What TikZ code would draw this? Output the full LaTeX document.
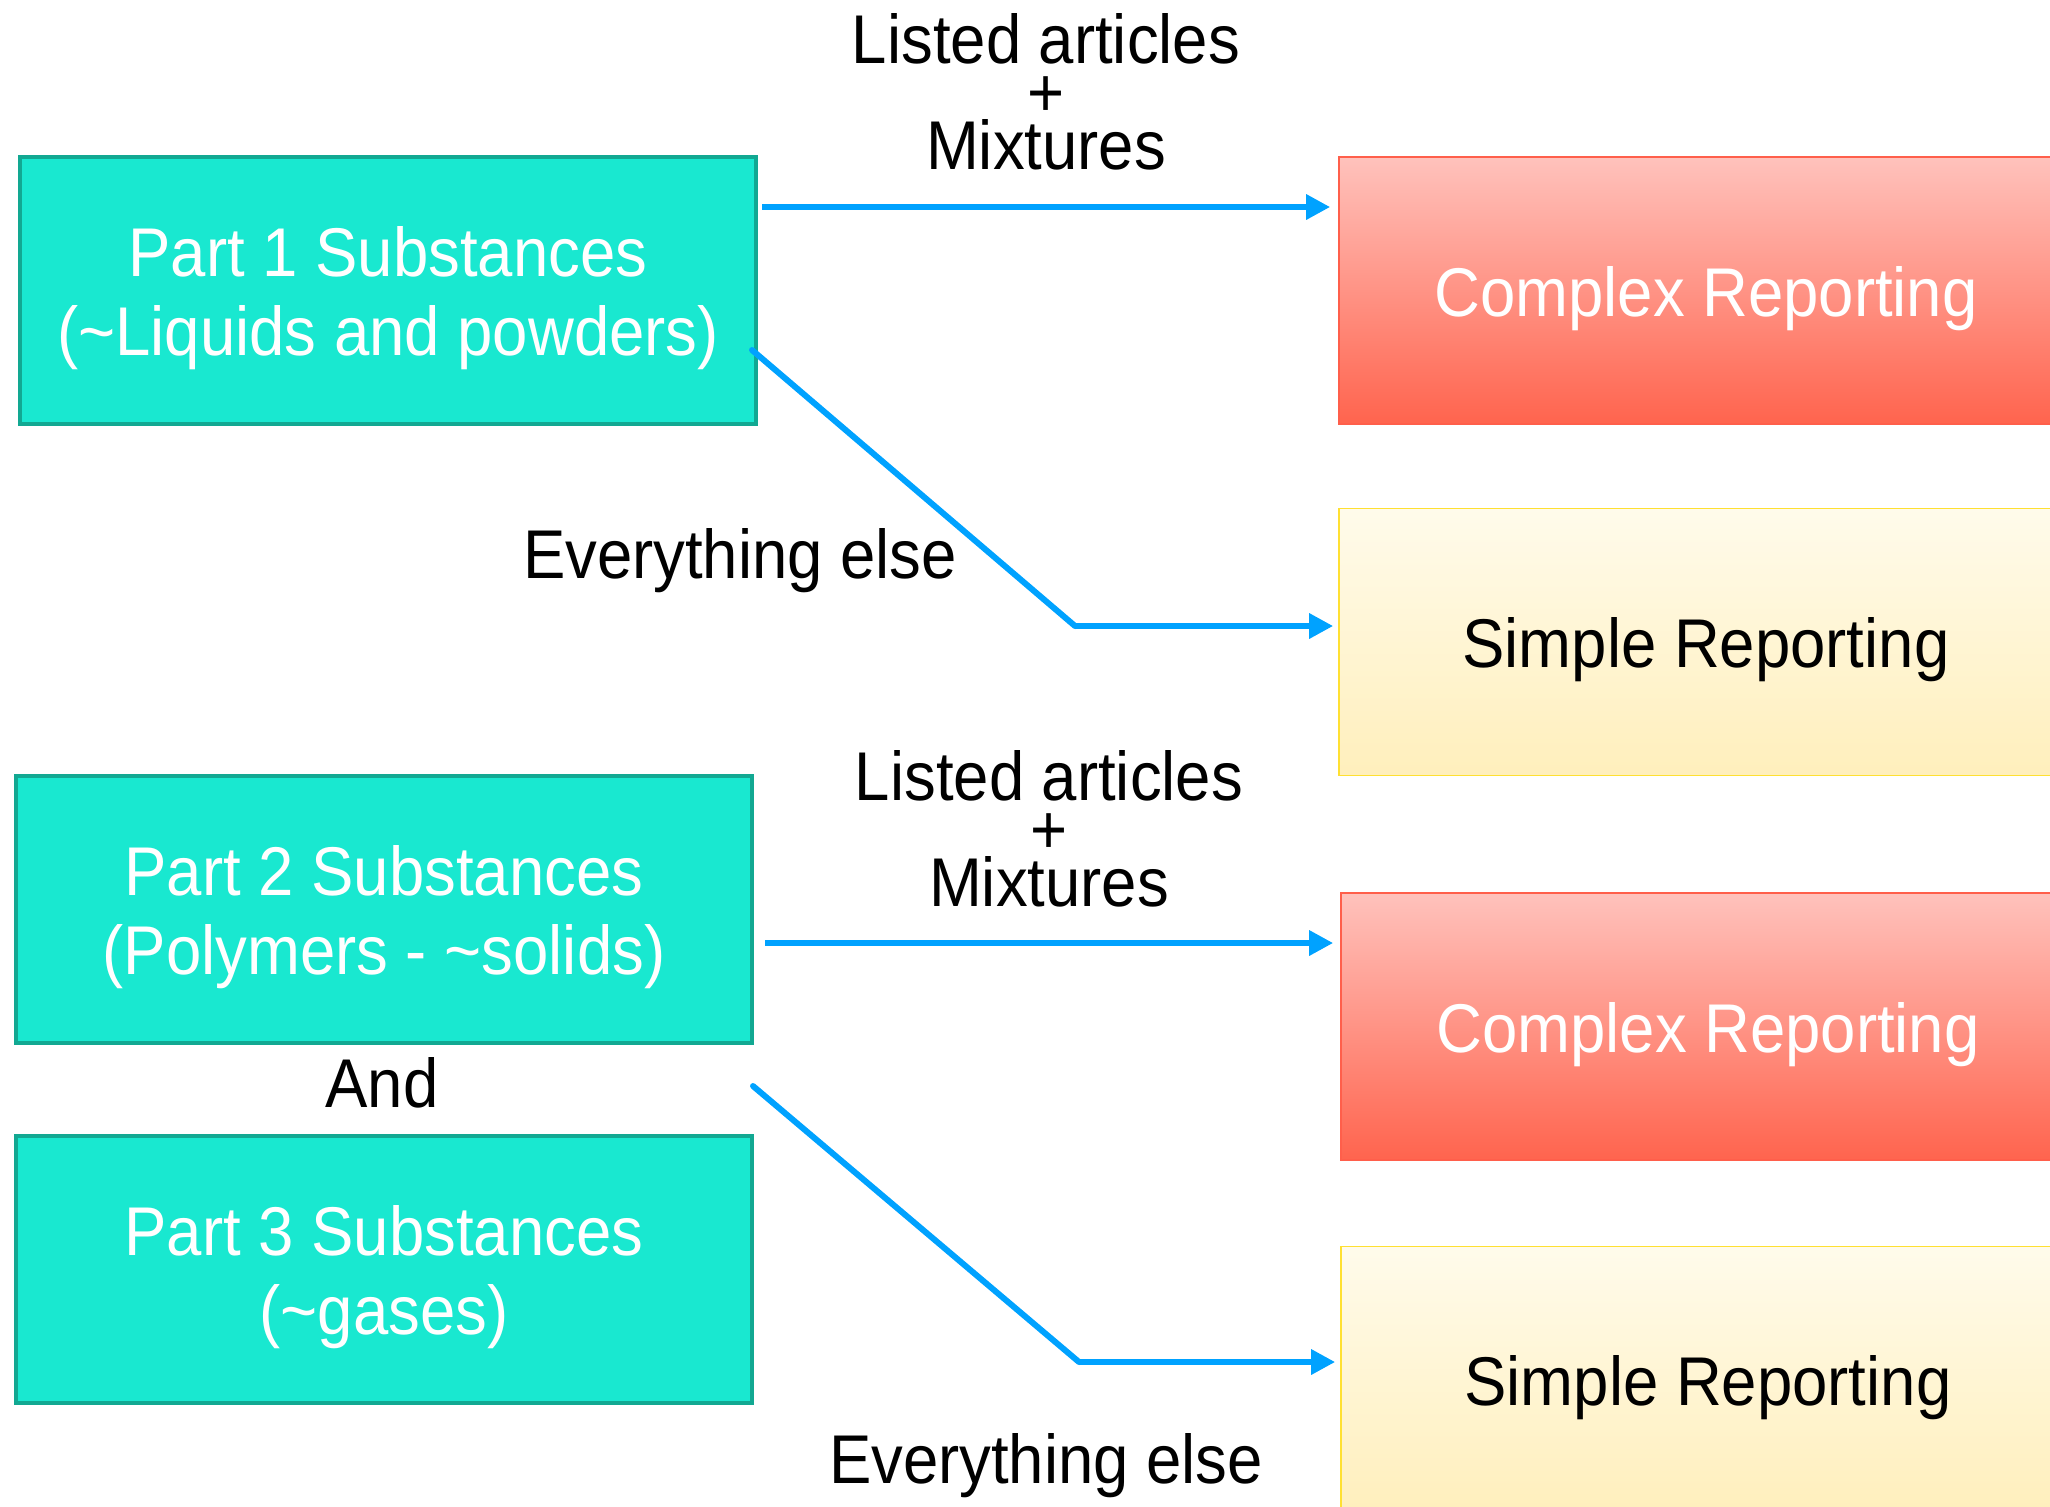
\documentclass[tikz,border=0pt]{standalone}
\usepackage{fontspec}
\setmainfont{Liberation Sans}[FakeStretch=0.92]
\usetikzlibrary{arrows.meta,calc}
\definecolor{tealfill}{RGB}{25,232,208}
\definecolor{tealline}{RGB}{18,168,146}
\definecolor{cxtop}{RGB}{255,194,188}
\definecolor{cxbot}{RGB}{255,100,78}
\definecolor{cxline}{RGB}{255,95,75}
\definecolor{smtop}{RGB}{255,251,235}
\definecolor{smbot}{RGB}{255,239,188}
\definecolor{smline}{RGB}{255,224,50}
\definecolor{arrowblue}{RGB}{0,162,255}
\tikzset{
  bigfont/.style={font=\fontsize{34.5pt}{39.5pt}\selectfont},
  labelfont/.style={font=\fontsize{34.5pt}{26.5pt}\selectfont},
  partbox/.style={draw=tealline, line width=2pt, fill=tealfill,
    minimum width=368pt, minimum height=133.5pt, inner sep=0pt},
  complexbox/.style={draw=cxline, line width=0.8pt, top color=cxtop, bottom color=cxbot,
    minimum width=367pt, minimum height=133.5pt, inner sep=0pt},
  simplebox/.style={draw=smline, line width=0.8pt, top color=smtop, bottom color=smbot,
    minimum width=367pt, minimum height=133.5pt, inner sep=0pt},
  whitetext/.style={text=white, align=center, bigfont, inner sep=0pt},
  blacktext/.style={text=black, align=center, bigfont, inner sep=0pt},
  lbl/.style={text=black, align=center, labelfont, inner sep=0pt},
  conn/.style={draw=arrowblue, line width=3pt, -{Triangle[length=12pt,width=12pt]}},
  plainconn/.style={draw=arrowblue, line width=3pt, line cap=round},
}
\begin{document}
\begin{tikzpicture}[x=0.5pt,y=-0.5pt]
\useasboundingbox (0,0) rectangle (2050,1506);
% boxes
\node[partbox] (p1) at (388,290.5) {};
\node[partbox] (p2) at (384,909) {};
\node[partbox] (p3) at (384,1269) {};
\node[complexbox] (c1) at (1706,290.5) {};
\node[simplebox] (s1) at (1706,642) {};
\node[complexbox] (c2) at (1708,1026.5) {};
\node[simplebox] (s2) at (1708,1380) {};
% box texts
\node[whitetext] (p1t) at ($(p1)+(0,8)$) {Part 1 Substances\\(\textasciitilde Liquids and powders)};
\node[whitetext] (p2t) at ($(p2)+(0,8)$) {Part 2 Substances\\(Polymers - \textasciitilde solids)};
\node[whitetext] (p3t) at ($(p3)+(0,8)$) {Part 3 Substances\\(\textasciitilde gases)};
\node[whitetext] (c1t) at ($(c1)+(0,8)$) {Complex Reporting};
\node[blacktext] (s1t) at ($(s1)+(0,8)$) {Simple Reporting};
\node[whitetext] (c2t) at ($(c2)+(0,8)$) {Complex Reporting};
\node[blacktext] (s2t) at ($(s2)+(0,8)$) {Simple Reporting};
% labels
\node[lbl] (l1) at (1046,92) {Listed articles\\+\\Mixtures};
\node[lbl] (l2) at (1049,829) {Listed articles\\+\\Mixtures};
\node[lbl] (e1) at (740,561) {Everything else};
\node[lbl] (e2) at (1046,1466) {Everything else};
\node[lbl] (and) at (382,1083) {And};
% bend points and connector ends
\coordinate (a1) at (762,207);
\coordinate (a2) at (765,943);
\coordinate (d1) at (752,350);
\coordinate (d2) at (753,1086);
\coordinate (b1) at (1075,626);
\coordinate (b2) at (1079,1362);
% connectors
\draw[conn, shorten >=4pt] (a1) -- (a1 -| c1.west);
\draw[plainconn] (d1) -- (b1);
\draw[conn, shorten >=2.5pt] (b1) -- (b1 -| s1.west);
\draw[conn, shorten >=3.5pt] (a2) -- (a2 -| c2.west);
\draw[plainconn] (d2) -- (b2);
\draw[conn, shorten >=2.5pt] (b2) -- (b2 -| s2.west);
\end{tikzpicture}
\end{document}
